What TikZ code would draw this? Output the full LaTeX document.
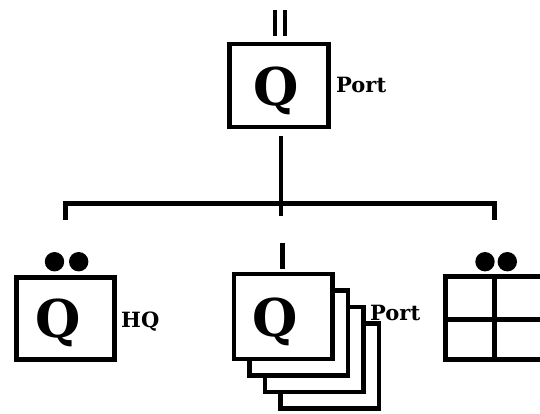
\documentclass[tikz,border=0pt]{standalone}
\usepackage{fontspec}
\setmainfont{DejaVu Serif}
\begin{document}
\begin{tikzpicture}[x=1pt,y=-1pt,
  box/.style={draw, line width=4.8pt, fill=white, inner sep=0pt, outer sep=0pt},
  qtext/.style={font=\fontsize{52}{52}\selectfont\bfseries, anchor=base, inner sep=0pt},
  lbl/.style={font=\fontsize{21}{21}\selectfont\bfseries, anchor=base west, inner sep=0pt},
  dot/.style={circle, fill=black, minimum size=19.4pt, inner sep=0pt},
  bar/.style={line width=4.6pt, line cap=butt, line join=miter}]
\clip (0,0) rectangle (540,413);
\fill[white] (0,0) rectangle (540,413);
% top unit
\node[box, minimum width=99pt, minimum height=83pt] (top) at (279,85.5) {};
\node[qtext] (qtop) at (276.5,105) {Q};
\node[lbl] (ltop) at (336,92) {Port};
\coordinate (ech1a) at (275,10); \coordinate (ech1b) at (275,36);
\coordinate (ech2a) at (285,10); \coordinate (ech2b) at (285,36);
\draw[bar] (ech1a) -- (ech1b);
\draw[bar] (ech2a) -- (ech2b);
% tree
\coordinate (trunktop) at (281,136);
\coordinate (trunkbot) at (281,216);
\coordinate (legl) at (65.3,220);
\coordinate (cornl) at (65.3,203.5);
\coordinate (corr) at (494.7,203.5);
\coordinate (legr) at (494.7,220);
\draw[bar] (trunktop) -- (trunkbot);
\draw[bar] (legl) -- (cornl) -- (corr) -- (legr);
% left unit
\node[box, minimum width=98.3pt, minimum height=81.7pt] (left) at (65.6,318.4) {};
\node[qtext] (qleft) at (58.3,337) {Q};
\node[lbl] (lleft) at (121,327) {HQ};
\node[dot] (dl1) at (54.5,261.7) {};
\node[dot] (dl2) at (78.7,261.7) {};
% middle unit (stack)
\node[box, minimum width=98.5pt, minimum height=85pt] (mid3) at (283.3+46.5,316.5+49.5) {};
\node[box, minimum width=98.5pt, minimum height=85pt] (mid2) at (283.3+31,316.5+33) {};
\node[box, minimum width=98.5pt, minimum height=85pt] (mid1) at (283.3+15.5,316.5+16.5) {};
\node[box, minimum width=98.5pt, minimum height=85pt] (mid) at (283.3,316.5) {};
\node[qtext] (qmid) at (275,336.7) {Q};
\node[lbl] (lmid) at (370,320) {Port};
\coordinate (ech3a) at (282.5,243); \coordinate (ech3b) at (282.5,269);
\draw[bar] (ech3a) -- (ech3b);
% right unit
\node[box, minimum width=96.8pt, minimum height=82.4pt] (right) at (494.2,318) {};
\draw[bar] (right.north) -- (right.south);
\draw[bar] ([yshift=-1.2pt]right.west) -- ([yshift=-1.2pt]right.east);
\node[dot] (dr1) at (485,261.7) {};
\node[dot] (dr2) at (507.3,261.7) {};
\end{tikzpicture}
\end{document}
